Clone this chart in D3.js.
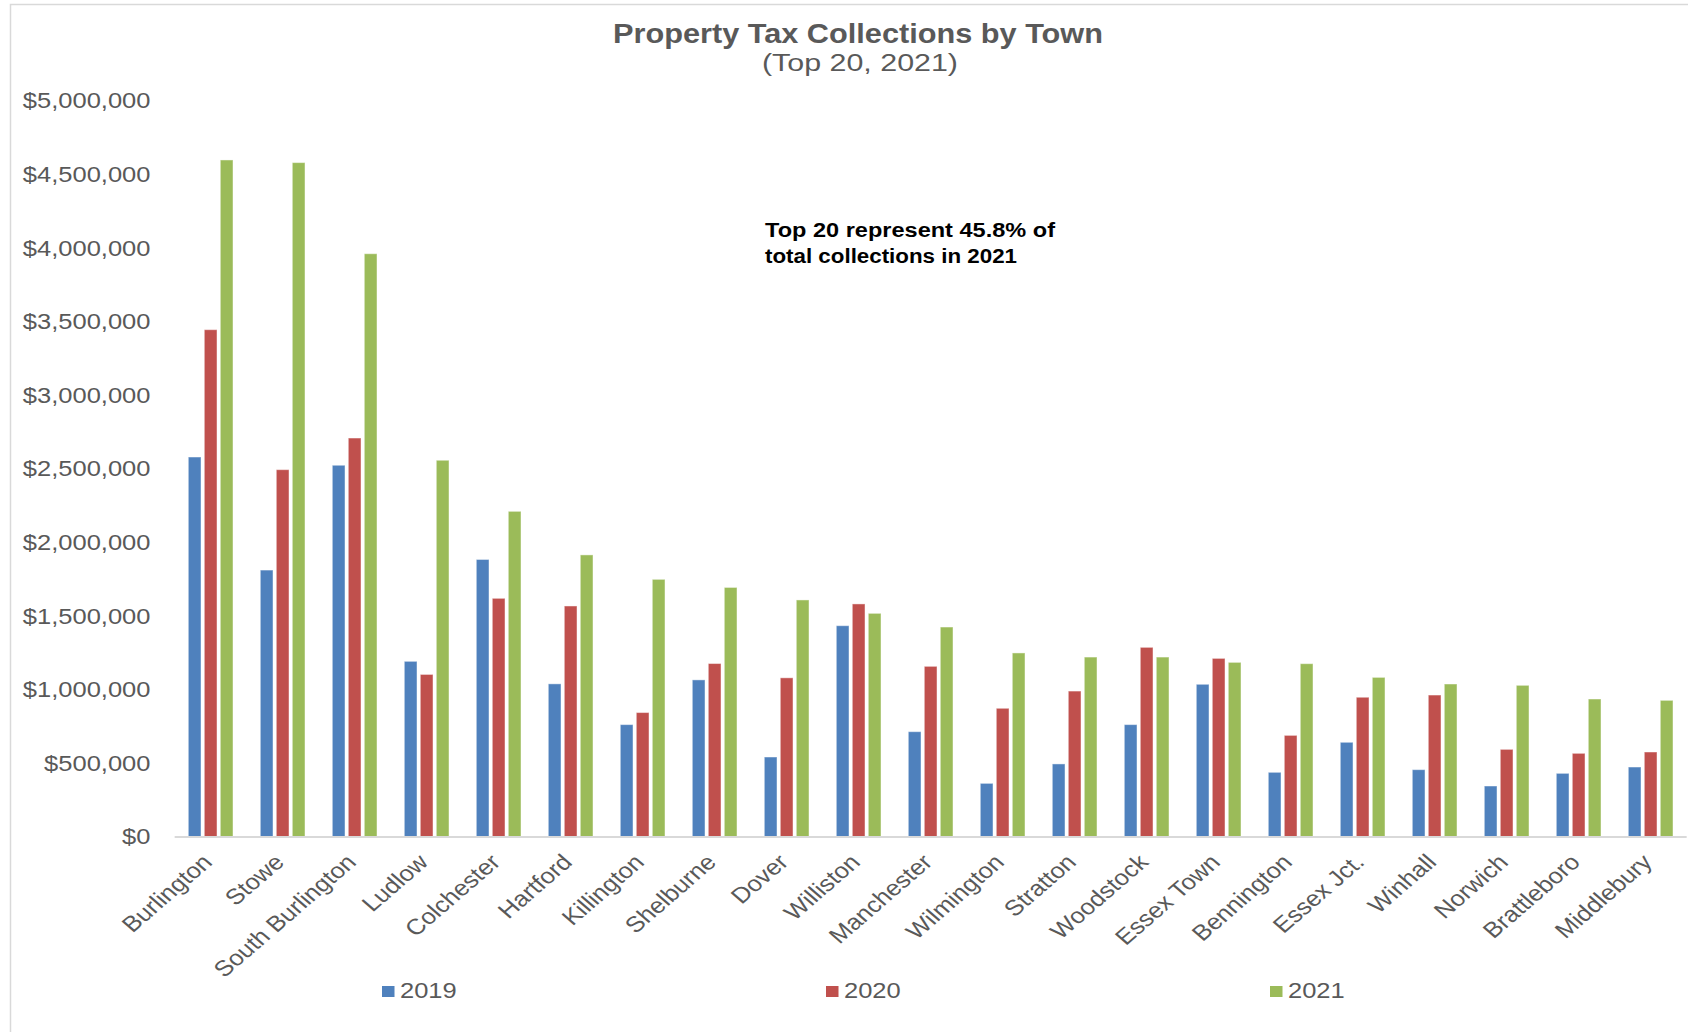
<!DOCTYPE html>
<html>
<head>
<meta charset="utf-8">
<script src="https://cdn.jsdelivr.net/npm/d3@7"></script>
<style>
  body { margin: 0; background: #fff; }
  svg { display: block; font-family: "Liberation Sans", Arial, sans-serif; }
</style>
</head>
<body>
<svg id="main-vis" width="1688" height="1032"></svg>
<script>
// data
var towns = ["Burlington", "Stowe", "South Burlington", "Ludlow", "Colchester", "Hartford",
  "Killington", "Shelburne", "Dover", "Williston", "Manchester", "Wilmington", "Stratton",
  "Woodstock", "Essex Town", "Bennington", "Essex Jct.", "Winhall", "Norwich", "Brattleboro",
  "Middlebury"];
var years = ["2019", "2020", "2021"];
var v2019 = [2578000, 1810000, 2522000, 1190000, 1882000, 1037000, 760000, 1064000, 540000,
  1432000, 712000, 361000, 493000, 760000, 1034000, 436000, 640000, 454000, 343000, 429000, 472000];
var v2020 = [3443000, 2492000, 2707000, 1101000, 1618000, 1566000, 842000, 1175000, 1078000,
  1580000, 1156000, 871000, 988000, 1285000, 1210000, 687000, 946000, 961000, 592000, 565000, 574000];
var v2021 = [4596000, 4578000, 3959000, 2556000, 2209000, 1913000, 1747000, 1692000, 1607000,
  1516000, 1423000, 1247000, 1219000, 1219000, 1183000, 1174000, 1081000, 1036000, 1027000, 934000, 925000];
var yTicks = [0, 500000, 1000000, 1500000, 2000000, 2500000, 3000000, 3500000, 4000000, 4500000, 5000000];
var colors = ["#4F81BD", "#C0504D", "#9BBB59"];

var margin = ({top: 100.5, right: 1.35, bottom: 195.5, left: 174.65});
var width = 1688;
var height = 1032;
var SX = 1.16; // the reference text is a bit wider than the font

var series = [v2019, v2020, v2021];
var rows = towns.map(function(t, i){
  return {town: t, values: years.map(function(yr, j){ return {year: yr, value: series[j][i]}; })};
});

var x0 = d3.scaleBand()
  .domain(towns)
  .range([margin.left, width - margin.right])
  .padding(0);

var x1 = d3.scaleBand()
  .domain(years)
  .range([0, x0.bandwidth()])
  .paddingInner(0.206)
  .paddingOuter(0.853);

var y = d3.scaleLinear()
  .domain([0, 5000000])
  .range([height - margin.bottom, margin.top]);

var color = d3.scaleOrdinal().domain(years).range(colors);

var svg = d3.select('#main-vis');

// chart area border (only top and left are inside the picture)
svg.append('rect')
  .attr('x', 10.5).attr('y', 4.5)
  .attr('width', 1800).attr('height', 1200)
  .attr('fill', 'none')
  .attr('stroke', '#D9D9D9')
  .attr('stroke-width', 1.5);

// title
svg.append('text')
  .attr('x', 858).attr('y', 43)
  .attr('text-anchor', 'middle')
  .attr('font-size', 27).attr('font-weight', 'bold')
  .attr('fill', '#595959')
  .attr('textLength', 490).attr('lengthAdjust', 'spacingAndGlyphs')
  .text('Property Tax Collections by Town');

svg.append('text')
  .attr('x', 860).attr('y', 70.5)
  .attr('text-anchor', 'middle')
  .attr('font-size', 23)
  .attr('fill', '#595959')
  .attr('textLength', 196).attr('lengthAdjust', 'spacingAndGlyphs')
  .text('(Top 20, 2021)');

// y axis labels
svg.selectAll('.ylab')
  .data(yTicks)
  .enter()
  .append('text')
    .attr('class', 'ylab')
    .attr('transform', function(d){ return 'translate(150.5,' + y(d) + ') scale(' + SX + ',1)'; })
    .attr('dy', '0.36em')
    .attr('text-anchor', 'end')
    .attr('font-size', 22)
    .attr('fill', '#595959')
    .text(function(d){ return '$' + d3.format(',')(d); });

// bars
var groups = svg.selectAll('.grp')
  .data(rows)
  .enter()
  .append('g')
    .attr('class', 'grp')
    .attr('transform', function(d){ return 'translate(' + x0(d.town) + ',0)'; });

groups.selectAll('rect')
  .data(function(d){ return d.values; })
  .enter()
  .append('rect')
    .attr('x', function(d){ return x1(d.year); })
    .attr('y', function(d){ return y(d.value); })
    .attr('width', x1.bandwidth())
    .attr('height', function(d){ return y(0) - y(d.value); })
    .attr('fill', function(d){ return color(d.year); })
    .attr('stroke', '#ffffff')
    .attr('stroke-opacity', 0.45)
    .attr('stroke-width', 1);

// x axis line
svg.append('line')
  .attr('x1', margin.left).attr('x2', width - margin.right)
  .attr('y1', y(0) + 0.5).attr('y2', y(0) + 0.5)
  .attr('stroke', '#D9D9D9')
  .attr('stroke-width', 2);

// town labels
svg.selectAll('.xlab')
  .data(towns)
  .enter()
  .append('text')
    .attr('class', 'xlab')
    .attr('transform', function(d){
      return 'translate(' + (x0(d) + x0.bandwidth() / 2 + 3) + ',' + (y(0) + 27) + ') scale(' + SX + ',1) rotate(-45)';
    })
    .attr('text-anchor', 'end')
    .attr('font-size', 22)
    .attr('fill', '#595959')
    .text(function(d){ return d; });

// note
var note = svg.append('text')
  .attr('font-size', 20).attr('font-weight', 'bold')
  .attr('fill', '#000');
note.append('tspan').attr('x', 765).attr('y', 237)
  .attr('textLength', 290).attr('lengthAdjust', 'spacingAndGlyphs')
  .text('Top 20 represent 45.8% of');
note.append('tspan').attr('x', 765).attr('y', 263)
  .attr('textLength', 252).attr('lengthAdjust', 'spacingAndGlyphs')
  .text('total collections in 2021');

// legend
var legend = svg.selectAll('.leg')
  .data(years)
  .enter()
  .append('g')
    .attr('class', 'leg')
    .attr('transform', function(d, i){ return 'translate(' + (382 + i * 444) + ',0)'; });

legend.append('rect')
  .attr('x', 0).attr('y', 986)
  .attr('width', 12.5).attr('height', 11)
  .attr('fill', function(d){ return color(d); });

legend.append('text')
  .attr('transform', 'translate(18,998) scale(' + SX + ',1)')
  .attr('font-size', 22)
  .attr('fill', '#595959')
  .text(function(d){ return d; });
</script>
</body>
</html>
